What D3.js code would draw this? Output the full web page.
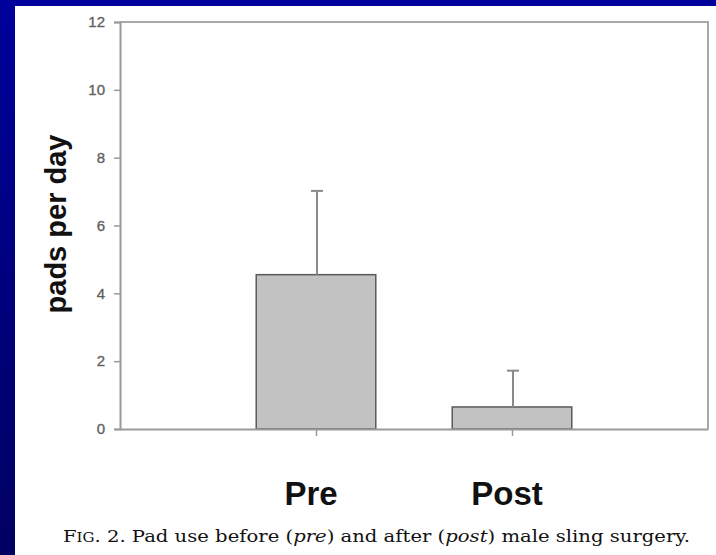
<!DOCTYPE html>
<html>
<head>
<meta charset="utf-8">
<script src="https://cdn.jsdelivr.net/npm/d3@7"></script>
<style>
  html, body { margin: 0; padding: 0; background: #000090; }
  svg { display: block; }
</style>
</head>
<body>
<div id="chart"></div>
<script>
const categories = ["Pre", "Post"];
const means = [4.55, 0.65];
const errTop = [7.02, 1.72];
const yTicks = [0, 2, 4, 6, 8, 10, 12];

const width = 716;
const height = 555;
const margin = { left: 120, right: 8, top: 22, bottom: 126 };

const svg = d3.select("#chart")
    .append("svg")
    .attr("width", width)
    .attr("height", height);

// slide background: blue frame, white page
const grad = svg.append("defs").append("linearGradient")
    .attr("id", "bg")
    .attr("x1", 0).attr("y1", 0).attr("x2", 0).attr("y2", 1);
grad.append("stop").attr("offset", "0%").attr("stop-color", "#00009c");
grad.append("stop").attr("offset", "100%").attr("stop-color", "#000062");

svg.append("rect")
    .attr("width", width).attr("height", height)
    .attr("fill", "url(#bg)");
svg.append("rect")
    .attr("x", 15).attr("y", 6)
    .attr("width", width - 15).attr("height", height - 6)
    .attr("fill", "#ffffff");

const x = d3.scaleLinear()
    .domain([0, categories.length + 1])
    .range([margin.left, width - margin.right]);

const y = d3.scaleLinear()
    .domain([0, 12])
    .range([height - margin.bottom, margin.top]);

const barW = 0.61 * (x(1) - x(0));
const axisColor = "#9a9a9a";

// frame (top + right)
svg.append("path")
    .attr("d", `M${x.range()[0]},${y(12)}H${x.range()[1]}V${y(0)}`)
    .attr("fill", "none")
    .attr("stroke", "#a8a8a8")
    .attr("stroke-width", 2);

// bars
svg.selectAll(".bar")
    .data(means)
    .enter().append("rect")
    .attr("class", "bar")
    .attr("x", (d, i) => x(i + 1) - barW / 2)
    .attr("y", d => y(d))
    .attr("width", barW)
    .attr("height", d => y(0) - y(d))
    .attr("fill", "#c2c2c2")
    .attr("stroke", "#5a5a5a")
    .attr("stroke-width", 1.5);

// error bars (upper only)
const err = svg.selectAll(".err")
    .data(errTop)
    .enter().append("g")
    .attr("class", "err")
    .attr("stroke", "#8a8a8a")
    .attr("stroke-width", 2);
err.append("line")
    .attr("x1", (d, i) => x(i + 1) + 1)
    .attr("x2", (d, i) => x(i + 1) + 1)
    .attr("y1", (d, i) => y(means[i]))
    .attr("y2", d => y(d));
err.append("line")
    .attr("x1", (d, i) => x(i + 1) - 5)
    .attr("x2", (d, i) => x(i + 1) + 7)
    .attr("y1", d => y(d))
    .attr("y2", d => y(d));

// y axis
const yAxis = svg.append("g")
    .attr("transform", `translate(${margin.left},0)`)
    .call(d3.axisLeft(y).tickValues(yTicks).tickSize(6).tickPadding(9));
yAxis.select(".domain").attr("stroke", axisColor).attr("stroke-width", 2);
yAxis.selectAll(".tick line").attr("stroke", axisColor).attr("stroke-width", 1.5);
yAxis.selectAll(".tick text")
    .attr("fill", "#555")
    .attr("stroke", "#777")
    .attr("stroke-width", 0.4)
    .style("font-family", "Arial, 'Liberation Sans', sans-serif")
    .style("font-size", "15px");

// x axis
const xAxis = svg.append("g")
    .attr("transform", `translate(0,${y(0)})`)
    .call(d3.axisBottom(x).tickValues([1, 2]).tickSize(7).tickSizeOuter(0).tickFormat(""));
xAxis.select(".domain").attr("stroke", axisColor).attr("stroke-width", 2);
xAxis.selectAll(".tick line").attr("stroke", axisColor).attr("stroke-width", 1.5);

// category labels
svg.selectAll(".cat")
    .data(categories)
    .enter().append("text")
    .attr("class", "cat")
    .attr("x", (d, i) => x(i + 1) - 5)
    .attr("y", 505)
    .attr("text-anchor", "middle")
    .style("font-family", "Arial, 'Liberation Sans', sans-serif")
    .style("font-weight", "bold")
    .style("font-size", "33px")
    .attr("fill", "#111")
    .text(d => d);

// y label
svg.append("text")
    .attr("transform", "translate(66,224) rotate(-90)")
    .attr("text-anchor", "middle")
    .style("font-family", "Arial, 'Liberation Sans', sans-serif")
    .style("font-weight", "bold")
    .style("font-size", "29px")
    .attr("fill", "#111")
    .text("pads per day");

// caption
const cap = svg.append("text")
    .attr("x", 63)
    .attr("y", 542)
    .attr("textLength", 627)
    .attr("lengthAdjust", "spacingAndGlyphs")
    .style("font-family", "'DejaVu Serif', 'Liberation Serif', serif")
    .style("font-size", "17px")
    .attr("fill", "#111");
cap.append("tspan").text("F");
cap.append("tspan").style("font-size", "13px").text("IG");
cap.append("tspan").text(". 2.  Pad use before (");
cap.append("tspan").style("font-style", "italic").text("pre");
cap.append("tspan").text(") and after (");
cap.append("tspan").style("font-style", "italic").text("post");
cap.append("tspan").text(") male sling surgery.");
</script>
</body>
</html>
